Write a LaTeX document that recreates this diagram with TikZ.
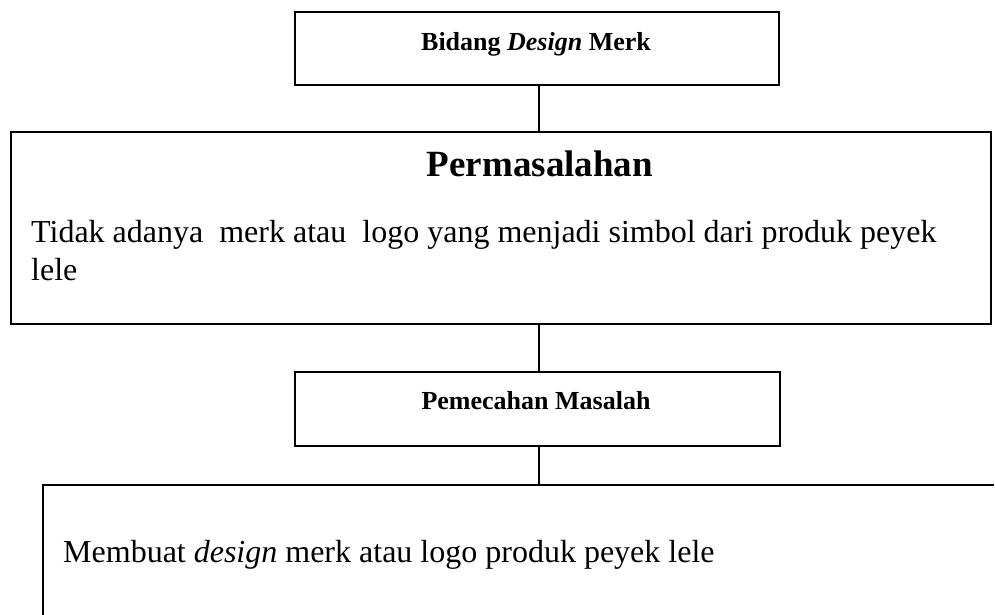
\documentclass[tikz,border=0pt]{standalone}
\usepackage{fontspec}
\setmainfont{Liberation Serif}
\begin{document}
\begin{tikzpicture}[x=1pt,y=-1pt,
  boxstyle/.style={draw=black, line width=1.6pt, inner sep=0pt, anchor=north west},
  link/.style={draw=black, line width=1.3pt},
  smalltitle/.style={anchor=base, font=\fontsize{26}{30}\selectfont\bfseries},
  bigtitle/.style={anchor=base, font=\fontsize{37}{42}\selectfont\bfseries},
  bodytext/.style={anchor=base west, font=\fontsize{32}{38}\selectfont, inner sep=0pt}]
\useasboundingbox (0,0) rectangle (995,614);
% boxes
\node[boxstyle, minimum width=484pt, minimum height=73pt] (b1) at (294,11) {};
\node[boxstyle, minimum width=980pt, minimum height=192pt] (b2) at (10,131) {};
\node[boxstyle, minimum width=485pt, minimum height=74pt] (b3) at (294,371) {};
\coordinate (b4a) at (994,485);
\coordinate (b4b) at (43,485);
\coordinate (b4c) at (43,615);
\draw[line width=1.6pt] (b4a) -- (b4b) -- (b4c);
% texts
\node[smalltitle] (t1) at (536,50) {Bidang \textit{Design} Merk};
\node[bigtitle] (t2) at (540,176) {Permasalahan};
\node[bodytext] (t3) at (31,242) {Tidak adanya~ merk atau~ logo yang menjadi simbol dari produk peyek};
\node[bodytext] (t4) at (31,280) {lele};
\node[smalltitle] (t5) at (536,409) {Pemecahan Masalah};
\node[bodytext] (t6) at (63,562) {Membuat \textit{design} merk atau logo produk peyek lele};
% connectors
\coordinate (c1) at (539,0);
\draw[link] (b1.south -| c1) -- (b2.north -| c1);
\draw[link] (b2.south -| c1) -- (b3.north -| c1);
\draw[link] (b3.south -| c1) -- (b4b -| c1);
\end{tikzpicture}
\end{document}
